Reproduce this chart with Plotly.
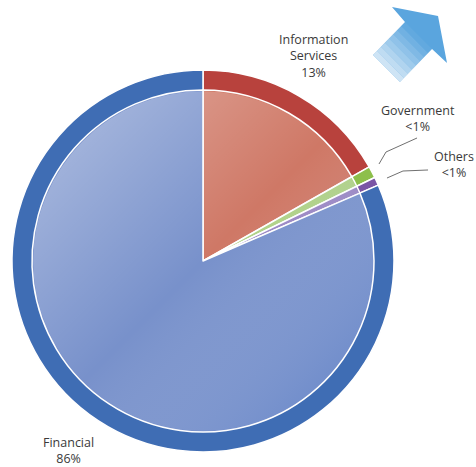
import base64
import plotly.graph_objects as go

W, H = 476, 467

categories = ["Information Services", "Government", "Others", "Financial"]
shares = [16.8, 1.0, 0.7, 81.5]          # drawn slice sizes
label_texts = ["Information<br>Services<br>13%", "Government<br><1%", "Others<br><1%", "Financial<br>86%"]
outer_colors = ["#b8423d", "#8dbf4b", "#7a55a5", "#3f6db4"]
inner_colors = ["#cf7866", "#afd186", "#9a86c3", "#7891cb"]

def px_x(p):
    return p / W

def px_y(p):
    return 1 - p / H

cx, cy, r_out, r_in = 203, 261, 191, 171

fig = go.Figure()
fig.add_trace(go.Pie(
    labels=categories, values=shares, sort=False, direction="clockwise", rotation=0,
    marker=dict(colors=outer_colors, line=dict(color="white", width=1.5)),
    textinfo="none", hoverinfo="label+percent", showlegend=False,
    domain=dict(x=[px_x(cx - r_out), px_x(cx + r_out)], y=[px_y(cy + r_out), px_y(cy - r_out)]),
))
fig.add_trace(go.Pie(
    labels=categories, values=shares, sort=False, direction="clockwise", rotation=0,
    marker=dict(colors=inner_colors, line=dict(color="white", width=1.5)),
    textinfo="none", hoverinfo="label+percent", showlegend=False,
    domain=dict(x=[px_x(cx - r_in), px_x(cx + r_in)], y=[px_y(cy + r_in), px_y(cy - r_in)]),
))

# soft diagonal shading over the inner disc (light top-left, deeper bottom-right)
svg = (
    '<svg xmlns="http://www.w3.org/2000/svg" width="200" height="200" viewBox="0 0 200 200">'
    '<defs><linearGradient id="g" x1="0" y1="0" x2="1" y2="1">'
    '<stop offset="0" stop-color="#ffffff" stop-opacity="0.42"/>'
    '<stop offset="0.5" stop-color="#ffffff" stop-opacity="0"/>'
    '<stop offset="1" stop-color="#2457b8" stop-opacity="0.38"/>'
    '</linearGradient></defs>'
    '<circle cx="100" cy="100" r="99.3" fill="url(#g)"/></svg>'
)
uri = "data:image/svg+xml;base64," + base64.b64encode(svg.encode()).decode()
fig.add_layout_image(source=uri, xref="paper", yref="paper",
                     x=px_x(cx - r_in), y=px_y(cy - r_in),
                     sizex=2 * r_in / W, sizey=2 * r_in / H,
                     xanchor="left", yanchor="top", sizing="stretch", layer="above")

font = dict(family="Open Sans, sans-serif", size=12.5, color="#3a3a3a")
label_pos = [(313, 56), (418, 118), (454, 164), (68, 450)]
for txt, (x, y) in zip(label_texts, label_pos):
    fig.add_annotation(x=px_x(x), y=px_y(y), xref="paper", yref="paper", text=txt,
                       showarrow=False, font=font, align="center", xanchor="center", yanchor="middle")

# leader lines
leaders = [
    [(379, 164), (386, 152), (417, 138)],
    [(387, 178), (403, 171), (428, 170)],
]
for pts in leaders:
    path = "M " + " L ".join(f"{px_x(a):.4f},{px_y(b):.4f}" for a, b in pts)
    fig.add_shape(type="path", path=path, xref="paper", yref="paper",
                  line=dict(color="#707070", width=1))

# decorative arrow (upper right)
shaft_top = [(405, 22), (432, 49)]
shaft_bot = [(373, 55), (400, 82)]
arrow_pts = [(392, 7), (438, 16), (447, 63), (432, 49), (400, 82), (373, 55), (405, 22)]
path = "M " + " L ".join(f"{px_x(a):.4f},{px_y(b):.4f}" for a, b in arrow_pts) + " Z"
fig.add_shape(type="path", path=path, xref="paper", yref="paper",
              fillcolor="#5aa5de", line=dict(width=0))
n = 8
for i in range(n):
    t0, t1 = i / n, (i + 1) / n
    def lerp(p, q, t):
        return (p[0] + (q[0] - p[0]) * t, p[1] + (q[1] - p[1]) * t)
    a0 = lerp(shaft_bot[0], shaft_top[0], t0)
    b0 = lerp(shaft_bot[1], shaft_top[1], t0)
    a1 = lerp(shaft_bot[0], shaft_top[0], t1)
    b1 = lerp(shaft_bot[1], shaft_top[1], t1)
    pts = [a0, a1, b1, b0]
    p = "M " + " L ".join(f"{px_x(a):.4f},{px_y(b):.4f}" for a, b in pts) + " Z"
    alpha = 0.75 * (1 - (i + 0.5) / n)
    fig.add_shape(type="path", path=p, xref="paper", yref="paper",
                  fillcolor=f"rgba(255,255,255,{alpha:.2f})", line=dict(width=0))

fig.update_layout(width=W, height=H, margin=dict(l=0, r=0, t=0, b=0),
                  paper_bgcolor="white", plot_bgcolor="white")
fig.write_html("out.html")
